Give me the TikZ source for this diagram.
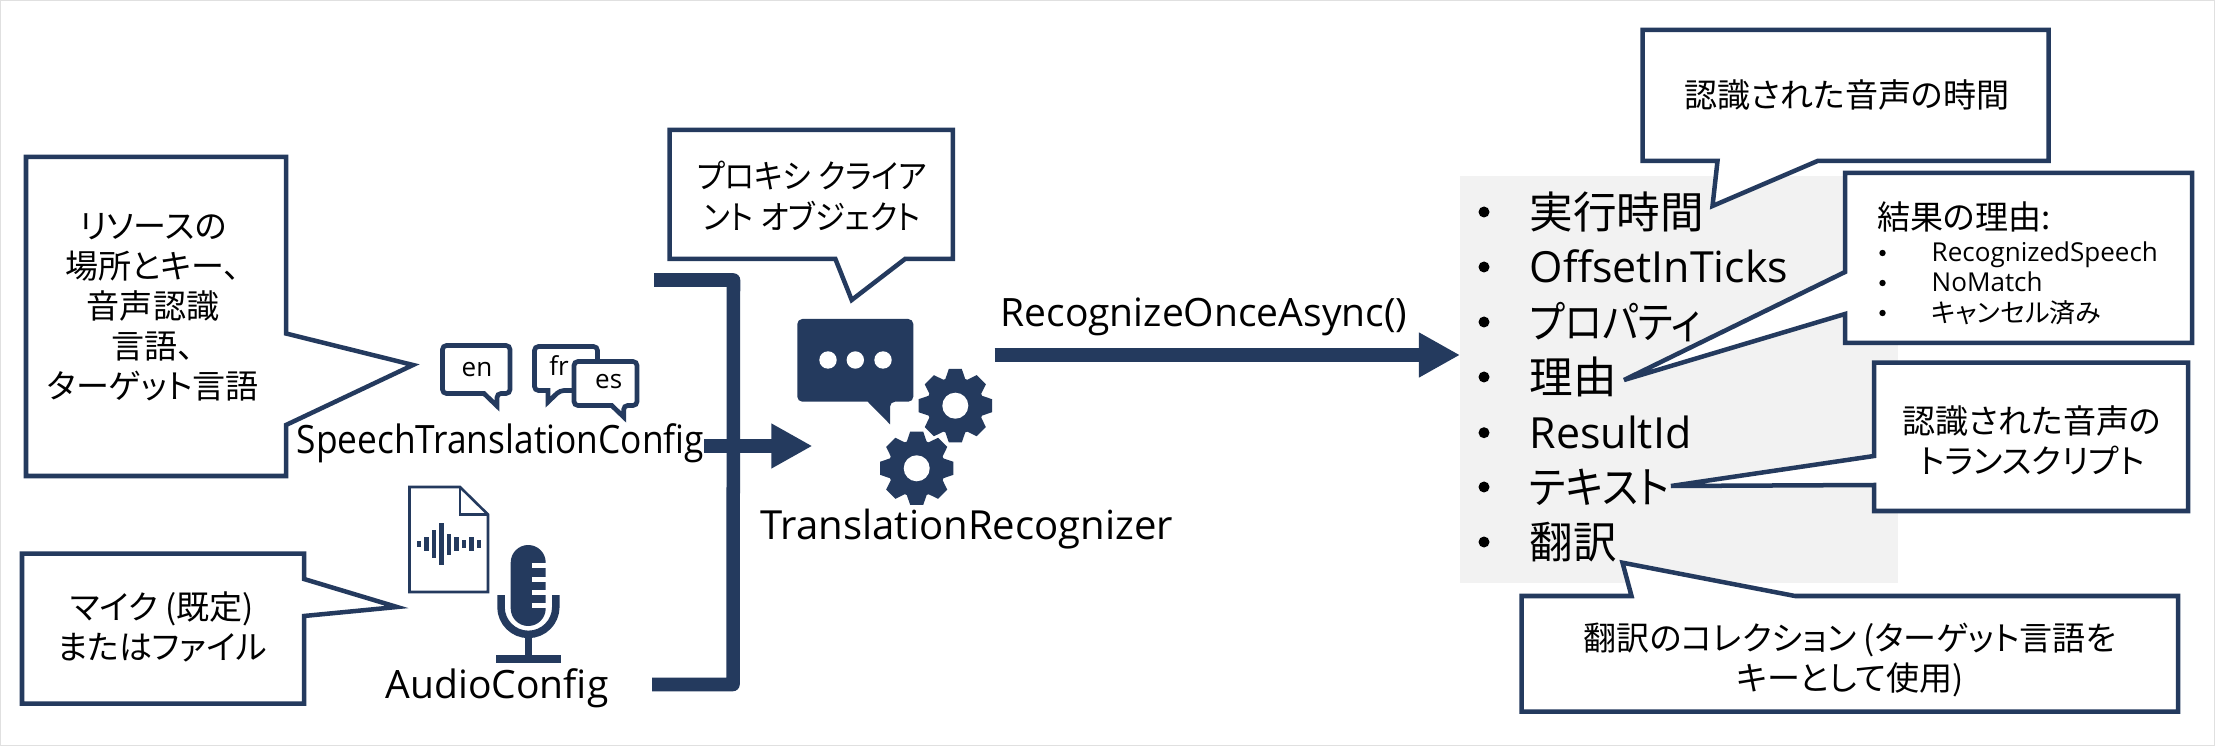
\documentclass[tikz,border=0pt]{standalone}
\usepackage{fontspec}
\setmainfont{Open Sans}
\newfontfamily\cjk[RawFeature=+palt]{Noto Sans CJK JP}
\usetikzlibrary{arrows.meta,positioning}

\definecolor{navy}{HTML}{243A5E}
\definecolor{panelgray}{HTML}{F2F2F2}

\tikzset{
  callout/.style={draw=navy, line width=0.045cm, fill=white, line join=miter},
  jalabel/.style={align=center, inner sep=0pt, font=\cjk\fontsize{9.4}{11.4}\selectfont},
  classlabel/.style={anchor=base west, inner sep=0pt, font=\fontsize{11.1}{13}\selectfont},
  itemlabel/.style={anchor=base west, inner sep=0pt, font=\fontsize{12.2}{14}\selectfont},
  jaitem/.style={anchor=west, inner sep=0pt, font=\cjk\fontsize{12.4}{14}\selectfont},
  smalllabel/.style={anchor=base west, inner sep=0pt, font=\fontsize{7.4}{9}\selectfont},
  langlabel/.style={inner sep=0pt, font=\fontsize{7.4}{9}\selectfont},
  bubble/.style={draw=navy, line width=0.047cm, fill=white, rounded corners=0.04cm},
  thickarrow/.style={draw=navy, line width=0.14cm, -{Triangle[length=0.41cm,width=0.42cm]}},
}

\newcommand{\gearicon}[2]{
  \begin{scope}[shift={(#1,#2)}]
    \fill[navy] (0,0) circle (28.5);
    \foreach \a in {0,45,...,315}
      \fill[navy, rotate=\a] (-10.5,-25) -- (-6.5,-36.7) -- (6.5,-36.7) -- (10.5,-25) -- cycle;
    \fill[white] (0,0) circle (13);
  \end{scope}
}

\begin{document}
\begin{tikzpicture}[x=0.01cm, y=-0.01cm]
\useasboundingbox (0,0) rectangle (2215,746);
\fill[white] (0,0) rectangle (2215,746);
\draw[black!12, line width=0.025cm] (0,0) rectangle (2215,746);

\draw[callout] (26,157) -- (286,157) -- (286,333.5) -- (413,365) -- (286,425) -- (286,476) -- (26,476) -- cycle;
\node[jalabel] (resourcetext) at (153,307) {リソースの\\場所とキー、\\音声認識\\言語、\\ターゲット言語};

\draw[callout] (22,553.6) -- (304,553.6) -- (304,579) -- (397,607) -- (304,616) -- (304,703.7) -- (22,703.7) -- cycle;
\node[jalabel] (mictext) at (162,627) {マイク (既定)\\またはファイル};

\draw[bubble] (442.5,345.5) -- (510,345.5) -- (510,393.5) -- (497,393.5) [sharp corners] -- (497,406) -- (484,393.5) [rounded corners=0.04cm] -- (442.5,393.5) -- cycle;
\node[langlabel] (enlabel) at (477,370) {en};
\draw[bubble] (534.5,346.5) -- (597.5,346.5) -- (597.5,390.5) -- (560,390.5) [sharp corners] -- (548,402) -- (548,390.5) [rounded corners=0.04cm] -- (534.5,390.5) -- cycle;
\node[langlabel] (frlabel) at (559,365.7) {fr};
\draw[bubble] (574,361.5) -- (637,361.5) -- (637,405.5) -- (623.7,405.5) [sharp corners] -- (623.7,417) -- (611.7,405.5) [rounded corners=0.04cm] -- (574,405.5) -- cycle;
\node[langlabel] (eslabel) at (608.7,382) {es};

\draw[navy, line width=0.026cm, line join=miter] (409.5,487) -- (460,487) -- (488,514.5) -- (488,592) -- (409.5,592) -- cycle;
\draw[navy, line width=0.026cm] (460,487) -- (460,514.5) -- (488,514.5);
\foreach \x/\h in {419/3.3, 426.7/7.3, 434/14, 441.7/21, 449/10.5, 456.7/7.2, 464/3.8, 471.7/6.7, 479/3.8}
  \fill[navy] (\x-2.4,544-\h) rectangle (\x+2.4,544+\h);

\fill[navy] (510.7,562.5) arc[start angle=180, end angle=360, radius=17.5] -- (545.7,608.5) arc[start angle=0, end angle=180, radius=17.5] -- cycle;
\foreach \y in {563,576.7,590,603}
  \fill[white] (532.3,\y) rectangle (547,\y+5);
\draw[navy, line width=0.075cm] (501,595) -- (501,607) arc[start angle=180, end angle=0, radius=27.4] -- (555.8,595);
\fill[navy] (525,636) rectangle (532.3,656);
\fill[navy] (496,655) rectangle (561,663.3);

\node[classlabel] (audioconfig) at (385,698) {AudioConfig};

\coordinate (bracketa) at (654,280);
\coordinate (bracketb) at (733.5,280);
\coordinate (bracketc) at (733,684.5);
\coordinate (bracketd) at (652,684.5);
\draw[navy, line width=0.135cm, line join=round] (bracketa) -- (bracketb) -- (bracketc) -- (bracketd);

\coordinate (configout) at (704,446);
\coordinate (recognizerin) at (812.4,446);
\draw[thickarrow] (configout) -- (recognizerin);

\node[classlabel, xscale=0.905, transform shape] (speechconfig) at (296,454) {SpeechTranslationConfig};

\draw[callout] (669.6,130) -- (952.8,130) -- (952.8,259) -- (905,259) -- (851.7,300) -- (835.4,259) -- (669.6,259) -- cycle;
\node[jalabel, xscale=0.92, transform shape] (proxytext) at (812,196) {プロキシ クライア\\ント オブジェクト};

\fill[navy, rounded corners=0.05cm] (797.3,319) -- (913.3,319) -- (913.3,401.7) -- (890,401.7) [sharp corners] -- (890,424.3) -- (867.7,401.7) [rounded corners=0.05cm] -- (797.3,401.7) -- cycle;
\foreach \x in {828,855.3,883}
  \fill[white] (\x,360) circle (8.7);
\gearicon{955.3}{405.7}
\gearicon{916.7}{468.3}

\node[classlabel, font=\fontsize{11.4}{13}\selectfont] (recognizer) at (760,539) {TranslationRecognizer};

\coordinate (recognizerout) at (994.6,355);
\coordinate (resultin) at (1460,355);
\draw[thickarrow] (recognizerout) -- (resultin);
\node[classlabel] (recognizecall) at (999.7,327) {RecognizeOnceAsync()};

\fill[panelgray] (1460,176) rectangle (1897.5,582.7);
\foreach \y in {212,267,322,377,432.7,487,542}
  \fill[black] (1484,\y) circle (5.5);
\node[jaitem] (duration) at (1529,212) {実行時間};
\node[itemlabel] (offset) at (1529,283) {OffsetInTicks};
\node[jaitem, xscale=0.88, transform shape] (properties) at (1529,322) {プロパティ};
\node[jaitem] (reason) at (1529,377) {理由};
\node[itemlabel] (resultid) at (1529,448.7) {ResultId};
\node[jaitem, xscale=0.92, transform shape] (textitem) at (1529,487) {テキスト};
\node[jaitem] (translations) at (1529,542) {翻訳};

\draw[callout] (1642.5,30) -- (2048.5,30) -- (2048.5,161) -- (1817.5,161) -- (1712.5,206) -- (1717.5,161) -- (1642.5,161) -- cycle;
\node[jalabel] (durationtext) at (1847,95) {認識された音声の時間};

\draw[callout] (1845,173) -- (2192,173) -- (2192,343) -- (1845,343) -- (1845,314) -- (1624,380) -- (1845,272) -- cycle;
\node[jalabel, anchor=west] (reasontext) at (1876.5,217) {結果の理由:};
\foreach \y in {253,283,313}
  \fill[black] (1882.5,\y) circle (3.2);
\node[smalllabel] (reasona) at (1931,262) {RecognizedSpeech};
\node[smalllabel] (reasonb) at (1931,292) {NoMatch};
\node[smalllabel, anchor=west, font=\cjk\fontsize{7.4}{9}\selectfont] (reasonc) at (1931,313) {キャンセル済み};

\draw[callout] (1874,362.7) -- (2188,362.7) -- (2188,511) -- (1874,511) -- (1874,485) -- (1671,486) -- (1874,456) -- cycle;
\node[jalabel] (transcripttext) at (2032,440) {認識された音声の\\トランスクリプト};

\draw[callout] (1521.5,596) -- (1631.5,596) -- (1622.5,562.7) -- (1795,596) -- (2178,596) -- (2178,711.7) -- (1521.5,711.7) -- cycle;
\node[jalabel] (translationstext) at (1850,660) {翻訳のコレクション (ターゲット言語を\\キーとして使用)};
\end{tikzpicture}
\end{document}
